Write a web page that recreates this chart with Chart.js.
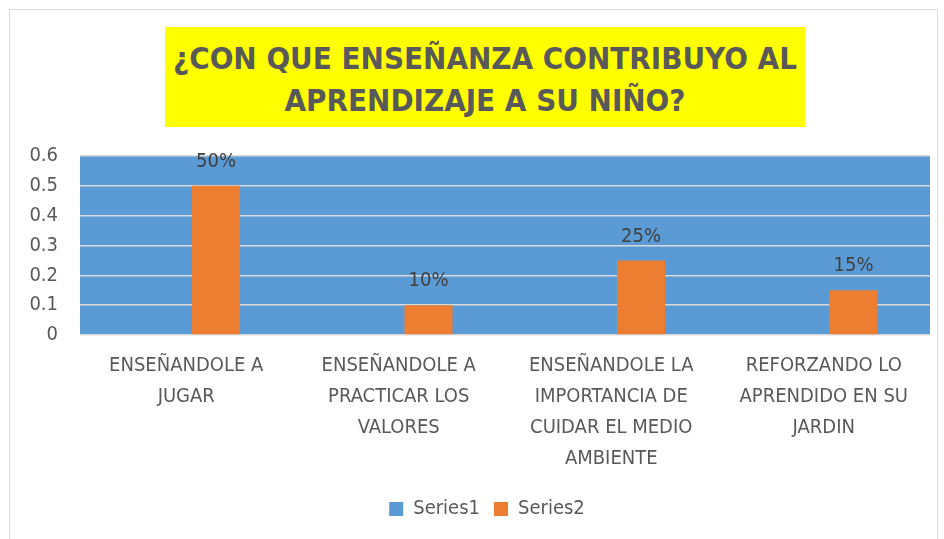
<!DOCTYPE html>
<html>
<head>
<meta charset="utf-8">
<script src="https://cdn.jsdelivr.net/npm/chart.js@4.4.0/dist/chart.umd.min.js"></script>
<style>
  html, body { margin: 0; padding: 0; background: #fff; }
  #wrap { position: relative; width: 944px; height: 539px; }
  #frame { position: absolute; left: 9px; top: 9px; width: 929px; height: 540px; border: 1px solid #d9d9d9; box-sizing: border-box; }
  #title {
    position: absolute; left: 165px; top: 27px; width: 640px; height: 100px;
    background: #ffff00; color: #595959; text-align: center; white-space: nowrap;
    font: bold 31px "Liberation Sans Narrow", "DejaVu Sans Condensed", sans-serif;
    line-height: 42px; padding-top: 10px; box-sizing: border-box;
  }
  canvas { position: absolute; left: 0; top: 0; }
</style>
</head>
<body>
<div id="wrap">
  <div id="frame"></div>
  <canvas id="chart" width="944" height="539"></canvas>
  <div id="title">¿CON QUE ENSEÑANZA CONTRIBUYO AL<br>APRENDIZAJE A SU NIÑO?</div>
</div>
<script>
// categorias del eje x (en varias lineas)
const categories = [
  ["ENSEÑANDOLE A", "JUGAR"],
  ["ENSEÑANDOLE A", "PRACTICAR LOS", "VALORES"],
  ["ENSEÑANDOLE LA", "IMPORTANCIA DE", "CUIDAR EL MEDIO", "AMBIENTE"],
  ["REFORZANDO LO", "APRENDIDO EN SU", "JARDIN"]
];
const series1 = [0, 0, 0, 0];
const series2 = [0.5, 0.1, 0.25, 0.15];
const series2Labels = ["50%", "10%", "25%", "15%"];
const yTicks = [0, 0.1, 0.2, 0.3, 0.4, 0.5, 0.6];

const fontFamily = '"Liberation Sans Narrow", "DejaVu Sans Condensed", sans-serif';

// fondo azul del area de trazado
const plotBackground = {
  id: "plotBackground",
  beforeDraw(chart) {
    const { ctx, chartArea: a } = chart;
    ctx.save();
    ctx.fillStyle = "#5b9bd5";
    ctx.fillRect(a.left, a.top, a.right - a.left, a.bottom - a.top);
    ctx.restore();
  }
};

// etiquetas de porcentaje encima de las barras
const barLabels = {
  id: "barLabels",
  afterDatasetsDraw(chart) {
    const { ctx } = chart;
    const meta = chart.getDatasetMeta(1);
    ctx.save();
    ctx.font = "20px " + fontFamily;
    ctx.fillStyle = "#404040";
    ctx.textAlign = "center";
    ctx.textBaseline = "middle";
    meta.data.forEach((bar, i) => {
      ctx.fillText(series2Labels[i], bar.x, bar.y - 24);
    });
    ctx.restore();
  }
};

// la leyenda va centrada un poco a la derecha, como en el original
const legendShift = {
  id: "legendShift",
  afterLayout(chart) {
    chart.legend.left += 22;
    chart.legend.right += 22;
  }
};

new Chart(document.getElementById("chart").getContext("2d"), {
  type: "bar",
  data: {
    labels: categories,
    datasets: [
      { label: "Series1", data: series1, backgroundColor: "#5b9bd5" },
      { label: "Series2", data: series2, backgroundColor: "#ed7d31" }
    ]
  },
  options: {
    responsive: false,
    animation: false,
    devicePixelRatio: 1,
    categoryPercentage: 0.56,
    barPercentage: 0.807,
    layout: { padding: { top: 156, right: 14, bottom: 10, left: 0 } },
    plugins: {
      title: { display: false },
      tooltip: { enabled: false },
      legend: {
        position: "bottom",
        labels: {
          boxWidth: 14, boxHeight: 14, padding: 14,
          color: "#595959",
          font: { family: fontFamily, size: 20 }
        }
      }
    },
    scales: {
      x: {
        grid: { display: false },
        border: { display: false },
        ticks: {
          color: "#595959",
          maxRotation: 0,
          autoSkip: false,
          padding: 7,
          font: { family: fontFamily, size: 20, lineHeight: 1.55 }
        },
        afterFit(scale) { scale.height = 150; }
      },
      y: {
        min: 0,
        max: 0.6,
        afterBuildTicks(scale) { scale.ticks = yTicks.map(v => ({ value: v })); },
        grid: { color: "#d9d9d9", lineWidth: 1.5, drawTicks: false },
        border: { display: false },
        ticks: {
          color: "#595959",
          padding: 22,
          font: { family: fontFamily, size: 20 },
          callback: v => String(v)
        },
        afterFit(scale) { scale.width = 80; }
      }
    }
  },
  plugins: [plotBackground, barLabels, legendShift]
});
</script>
</body>
</html>
